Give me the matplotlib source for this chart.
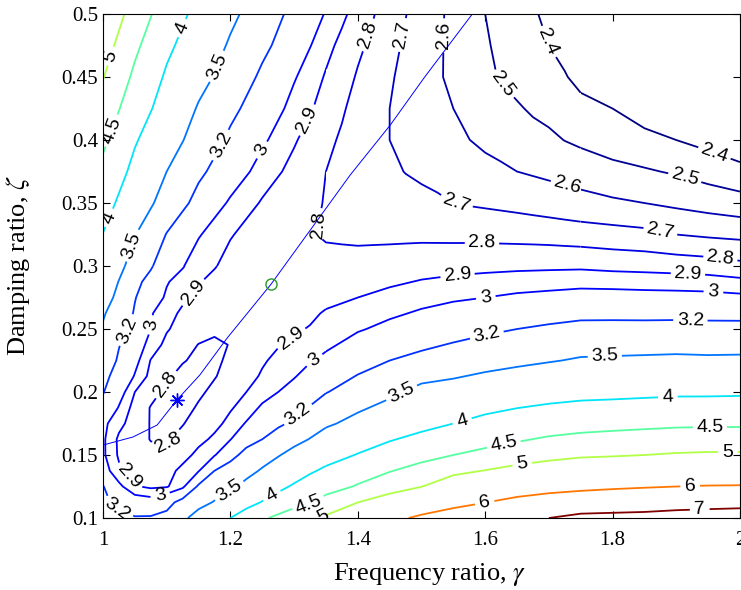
import numpy as np
import matplotlib
matplotlib.use('Agg')
import matplotlib.pyplot as plt
from matplotlib.colors import Normalize
from matplotlib.patches import Polygon
from matplotlib.ticker import FormatStrFormatter

plt.rcParams['font.family'] = ['Liberation Serif', 'DejaVu Serif']
plt.rcParams['mathtext.fontset'] = 'stix'

# coarse grid of peak response values
gamma = [1.00, 1.05, 1.10, 1.15, 1.20, 1.25, 1.30, 1.35, 1.40, 1.45, 1.50,
         1.55, 1.60, 1.65, 1.70, 1.75, 1.80, 1.85, 1.90, 1.95, 2.00]
zeta = [0.100, 0.125, 0.150, 0.175, 0.200, 0.225, 0.250, 0.275, 0.300,
        0.325, 0.350, 0.375, 0.400, 0.425, 0.450, 0.475, 0.500]
peak = [
    [3.28, 3.22, 3.25, 3.64, 4.00, 4.43, 4.75, 5.07, 5.45, 5.82, 6.12, 6.33, 6.55, 6.77, 7.00, 7.19, 7.22, 7.25, 7.33, 7.38, 7.43],
    [3.22, 2.96, 2.97, 3.23, 3.44, 3.745, 4.05, 4.30, 4.54, 4.76, 4.99, 5.28, 5.42, 5.62, 5.73, 5.81, 5.89, 5.95, 6.00, 6.03, 6.04],
    [3.03, 2.84, 2.82, 2.917, 3.133, 3.395, 3.60, 3.84, 4.02, 4.20, 4.35, 4.50, 4.61, 4.72, 4.84, 4.93, 4.96, 5.00, 5.04, 5.06, 5.06],
    [3.06, 2.85, 2.775, 2.842, 2.93, 3.084, 3.24, 3.45, 3.60, 3.74, 3.875, 4.00, 4.11, 4.19, 4.27, 4.32, 4.36, 4.39, 4.42, 4.43, 4.43],
    [3.22, 2.92, 2.765, 2.785, 2.86, 2.948, 3.06, 3.19, 3.31, 3.435, 3.59, 3.64, 3.73, 3.80, 3.84, 3.88, 3.89, 3.91, 3.93, 3.93, 3.94],
    [3.35, 3.045, 2.853, 2.78, 2.805, 2.886, 2.955, 3.025, 3.112, 3.20, 3.256, 3.31, 3.367, 3.424, 3.48, 3.53, 3.54, 3.55, 3.56, 3.55, 3.555],
    [3.47, 3.12, 2.91, 2.82, 2.805, 2.85, 2.89, 2.938, 2.988, 3.033, 3.075, 3.118, 3.16, 3.20, 3.23, 3.258, 3.26, 3.26, 3.264, 3.26, 3.262],
    [3.64, 3.21, 2.98, 2.88, 2.855, 2.845, 2.85, 2.878, 2.90, 2.927, 2.958, 2.982, 3.00, 3.02, 3.033, 3.047, 3.047, 3.042, 3.04, 3.036, 3.025],
    [3.81, 3.36, 3.08, 2.935, 2.875, 2.855, 2.84, 2.83, 2.836, 2.844, 2.856, 2.865, 2.872, 2.877, 2.88, 2.882, 2.871, 2.865, 2.857, 2.847, 2.825],
    [3.99, 3.51, 3.19, 3.01, 2.905, 2.863, 2.824, 2.79, 2.78, 2.78, 2.78, 2.776, 2.774, 2.767, 2.76, 2.748, 2.737, 2.726, 2.70, 2.685, 2.675],
    [4.18, 3.71, 3.36, 3.13, 2.98, 2.89, 2.84, 2.795, 2.77, 2.75, 2.73, 2.70, 2.685, 2.67, 2.65, 2.63, 2.615, 2.60, 2.58, 2.56, 2.54],
    [4.38, 3.88, 3.50, 3.24, 3.08, 2.95, 2.87, 2.80, 2.76, 2.72, 2.68, 2.66, 2.63, 2.60, 2.58, 2.56, 2.53, 2.51, 2.49, 2.46, 2.43],
    [4.59, 4.04, 3.66, 3.36, 3.16, 3.02, 2.91, 2.82, 2.76, 2.70, 2.66, 2.62, 2.58, 2.55, 2.52, 2.48, 2.45, 2.43, 2.40, 2.37, 2.33],
    [4.80, 4.23, 3.81, 3.47, 3.25, 3.09, 2.96, 2.86, 2.77, 2.70, 2.65, 2.60, 2.55, 2.51, 2.47, 2.43, 2.40, 2.35, 2.31, 2.28, 2.24],
    [5.02, 4.41, 3.94, 3.61, 3.36, 3.16, 3.01, 2.89, 2.79, 2.71, 2.64, 2.58, 2.52, 2.47, 2.43, 2.37, 2.31, 2.27, 2.24, 2.21, 2.19],
    [5.22, 4.59, 4.09, 3.74, 3.46, 3.25, 3.08, 2.93, 2.82, 2.73, 2.65, 2.58, 2.51, 2.45, 2.40, 2.35, 2.30, 2.26, 2.22, 2.18, 2.14],
    [5.45, 4.78, 4.26, 3.87, 3.57, 3.33, 3.14, 2.99, 2.86, 2.75, 2.66, 2.58, 2.50, 2.44, 2.38, 2.33, 2.27, 2.23, 2.18, 2.13, 2.09],
]

# finer readings around the closed 2.8 loop (gamma <= 1.35, zeta <= 0.3)
gamma_fine = [1.0, 1.025, 1.05, 1.075, 1.1, 1.125, 1.15, 1.175, 1.2, 1.225, 1.25,
              1.275, 1.3, 1.325, 1.35]
zeta_fine = [0.1, 0.1125, 0.125, 0.1375, 0.15, 0.1625, 0.175, 0.1875, 0.2,
             0.2125, 0.225, 0.2375, 0.25, 0.2625, 0.275, 0.2875, 0.3]
peak_fine = [
    [3.28, 3.24, 3.215, 3.22, 3.26, 3.43, 3.64, 3.82, 4.00, 4.22, 4.43, 4.60, 4.75, 4.88, 5.07],
    [3.24, 3.15, 3.08, 3.06, 3.13, 3.27, 3.39, 3.52, 3.68, 3.85, 4.02, 4.18, 4.35, 4.45, 4.685],
    [3.21, 3.03, 2.91, 2.88, 2.89, 2.97, 3.23, 3.33, 3.44, 3.58, 3.745, 3.90, 4.05, 4.19, 4.30],
    [3.06, 2.92, 2.86, 2.84, 2.86, 2.93, 2.99, 3.20, 3.30, 3.41, 3.53, 3.66, 3.80, 3.95, 4.07],
    [3.02, 2.885, 2.84, 2.82, 2.82, 2.86, 2.93, 2.99, 3.13, 3.27, 3.38, 3.48, 3.60, 3.74, 3.84],
    [3.02, 2.88, 2.83, 2.797, 2.79, 2.83, 2.87, 2.92, 2.995, 3.12, 3.20, 3.31, 3.41, 3.51, 3.645],
    [3.03, 2.93, 2.85, 2.795, 2.77, 2.795, 2.84, 2.87, 2.93, 3.01, 3.09, 3.16, 3.24, 3.365, 3.45],
    [3.15, 2.99, 2.86, 2.795, 2.765, 2.77, 2.81, 2.85, 2.89, 2.94, 3.02, 3.09, 3.15, 3.21, 3.32],
    [3.21, 3.06, 2.90, 2.83, 2.78, 2.76, 2.785, 2.82, 2.86, 2.90, 2.95, 3.00, 3.06, 3.13, 3.19],
    [3.25, 3.13, 2.99, 2.87, 2.81, 2.78, 2.77, 2.795, 2.83, 2.87, 2.91, 2.95, 2.99, 3.056, 3.1075],
    [3.35, 3.17, 3.04, 2.895, 2.85, 2.805, 2.785, 2.79, 2.81, 2.85, 2.89, 2.92, 2.955, 2.99, 3.025],
    [3.41, 3.21, 3.07, 2.96, 2.87, 2.83, 2.798, 2.79, 2.802, 2.83, 2.865, 2.895, 2.91, 2.949, 2.9815],
    [3.47, 3.28, 3.15, 3.00, 2.91, 2.86, 2.83, 2.81, 2.805, 2.82, 2.85, 2.87, 2.89, 2.905, 2.938],
    [3.53, 3.35, 3.18, 3.01, 2.94, 2.88, 2.85, 2.83, 2.825, 2.83, 2.845, 2.86, 2.87, 2.885, 2.908],
    [3.64, 3.42, 3.21, 3.08, 2.98, 2.92, 2.88, 2.865, 2.855, 2.848, 2.845, 2.845, 2.85, 2.864, 2.878],
    [3.73, 3.49, 3.25, 3.14, 3.01, 2.95, 2.905, 2.88, 2.865, 2.852, 2.845, 2.843, 2.845, 2.85, 2.854],
    [3.81, 3.585, 3.36, 3.22, 3.08, 3.01, 2.935, 2.905, 2.875, 2.865, 2.855, 2.8475, 2.84, 2.835, 2.83],
]

# finer readings where the upper-right contours bend (1.35 <= gamma <= 1.75, zeta >= 0.3)
gamma_top = [1.35, 1.375, 1.4, 1.425, 1.45, 1.475, 1.5, 1.525, 1.55, 1.575, 1.6,
             1.625, 1.65, 1.675, 1.7, 1.725, 1.75]
zeta_top = [0.3, 0.325, 0.35, 0.375, 0.4, 0.425, 0.45, 0.475, 0.5]
peak_top = [
    [2.83, 2.833, 2.836, 2.84, 2.844, 2.85, 2.856, 2.8605, 2.865, 2.8685, 2.872, 2.8745, 2.877, 2.8785, 2.88, 2.881, 2.882],
    [2.79, 2.785, 2.78, 2.78, 2.78, 2.78, 2.78, 2.778, 2.776, 2.775, 2.774, 2.77, 2.767, 2.764, 2.76, 2.754, 2.748],
    [2.795, 2.78, 2.77, 2.76, 2.75, 2.74, 2.73, 2.715, 2.70, 2.692, 2.685, 2.678, 2.67, 2.66, 2.65, 2.64, 2.63],
    [2.80, 2.78, 2.76, 2.74, 2.72, 2.697, 2.68, 2.67, 2.66, 2.645, 2.63, 2.615, 2.60, 2.59, 2.58, 2.57, 2.56],
    [2.82, 2.789, 2.76, 2.73, 2.70, 2.682, 2.66, 2.642, 2.62, 2.601, 2.58, 2.567, 2.55, 2.532, 2.52, 2.498, 2.48],
    [2.86, 2.81, 2.77, 2.738, 2.70, 2.675, 2.65, 2.621, 2.60, 2.574, 2.55, 2.529, 2.51, 2.488, 2.47, 2.453, 2.43],
    [2.89, 2.842, 2.79, 2.753, 2.71, 2.677, 2.64, 2.611, 2.58, 2.55, 2.52, 2.493, 2.47, 2.45, 2.43, 2.407, 2.37],
    [2.93, 2.874, 2.82, 2.775, 2.73, 2.686, 2.65, 2.612, 2.58, 2.544, 2.51, 2.481, 2.45, 2.426, 2.40, 2.37, 2.35],
    [2.99, 2.921, 2.86, 2.804, 2.75, 2.703, 2.66, 2.615, 2.58, 2.541, 2.50, 2.473, 2.44, 2.41, 2.38, 2.353, 2.33],
]
levels = [2.4, 2.5, 2.6, 2.7, 2.8, 2.9, 3, 3.2, 3.5, 4, 4.5, 5, 6, 7]

# equal-peak locus and the two marked points
locus_gamma = [1.0, 1.047, 1.085, 1.116, 1.152, 1.195, 1.264, 1.388, 1.451, 1.505, 1.581]
locus_zeta = [0.1579, 0.1643, 0.1738, 0.1937, 0.2135, 0.2429, 0.2857, 0.3722, 0.4119, 0.45, 0.5008]
opt_gamma, opt_zeta = 1.116, 0.1937
fix_gamma, fix_zeta = 1.264, 0.2857

# where the contour labels sit, per block
label_pos = [
    (1.016, 0.466), (1.011, 0.408), (1.133, 0.487), (1.181, 0.458), (1.192, 0.394),
    (1.25, 0.392), (1.32, 0.416), (1.011, 0.338), (1.042, 0.317), (1.333, 0.333),
    (1.474, 0.194), (1.565, 0.175), (1.631, 0.154), (1.659, 0.140), (1.6, 0.110),
    (1.557, 0.29), (1.601, 0.275), (1.603, 0.244), (1.911, 0.366), (1.958, 0.387),
    (1.874, 0.325), (1.969, 0.305), (1.918, 0.29), (1.958, 0.277), (1.922, 0.253),
    (1.788, 0.225), (1.887, 0.194), (1.953, 0.168), (1.981, 0.152), (1.922, 0.122),
    (1.937, 0.104),
]
label_pos_fine = [
    (1.038, 0.249), (1.078, 0.253), (1.148, 0.277), (1.099, 0.206), (1.102, 0.160),
    (1.039, 0.132), (1.089, 0.120), (1.019, 0.105), (1.199, 0.121), (1.267, 0.116),
    (1.295, 0.243), (1.333, 0.2246), (1.305, 0.183), (1.322, 0.113), (1.343, 0.103),
]
label_pos_top = [
    (1.419, 0.483), (1.474, 0.483), (1.534, 0.483), (1.623, 0.442), (1.694, 0.477),
    (1.553, 0.347), (1.595, 0.313), (1.728, 0.362),
]

fig = plt.figure(figsize=(7.41, 5.90), dpi=100)
ax = fig.add_axes([0.139, 0.122, 0.8596, 0.8542])

norm = Normalize(2.4, 7)
clip_coarse = Polygon([(1.35, 0.0), (2.1, 0.0), (2.1, 0.6), (1.75, 0.6), (1.75, 0.3),
                       (1.35, 0.3), (1.35, 0.6), (0.9, 0.6), (0.9, 0.3), (1.35, 0.3)],
                      closed=True, transform=ax.transData)
clip_fine = Polygon([(0.9, 0.0), (1.35, 0.0), (1.35, 0.3), (0.9, 0.3)],
                    closed=True, transform=ax.transData)
clip_top = Polygon([(1.35, 0.3), (1.75, 0.3), (1.75, 0.6), (1.35, 0.6)],
                   closed=True, transform=ax.transData)

texts = []
for g, z, p, clip, pos in [(gamma, zeta, peak, clip_coarse, label_pos),
                           (gamma_fine, zeta_fine, peak_fine, clip_fine, label_pos_fine),
                           (gamma_top, zeta_top, peak_top, clip_top, label_pos_top)]:
    cs = ax.contour(g, z, np.array(p), levels=levels, cmap='jet', norm=norm, linewidths=1.3)
    cs.set_clip_path(clip)
    texts += ax.clabel(cs, fmt='%g', fontsize=14, colors='k', manual=pos, inline=True)
for t in texts:
    t.set_family('Liberation Sans')

ax.plot(locus_gamma, locus_zeta, color='b', lw=0.7)
ax.plot(opt_gamma, opt_zeta, marker=(8, 2, 0), color='b', ms=10, mew=1, ls='none')
ax.plot(fix_gamma, fix_zeta, marker='o', mfc='none', mec=(0.15, 0.6, 0.15), ms=8, ls='none')

ax.set_xlim(1, 2)
ax.set_ylim(0.1, 0.5)
ax.set_xticks([1, 1.2, 1.4, 1.6, 1.8, 2])
ax.set_yticks([0.1, 0.15, 0.2, 0.25, 0.3, 0.35, 0.4, 0.45, 0.5])
ax.xaxis.set_major_formatter(FormatStrFormatter('%g'))
ax.yaxis.set_major_formatter(FormatStrFormatter('%g'))
ax.tick_params(direction='in', top=True, right=True, length=5, labelsize=15)
ax.tick_params(axis='x', pad=9)
ax.set_xlabel('Frequency ratio, $\\gamma$', fontsize=19)
ax.set_ylabel('Damping ratio, $\\zeta$', fontsize=19)
ax.xaxis.set_label_coords(0.513, -0.085)
ax.yaxis.set_label_coords(-0.112, 0.5)

fig.savefig('out.png', dpi=100)
